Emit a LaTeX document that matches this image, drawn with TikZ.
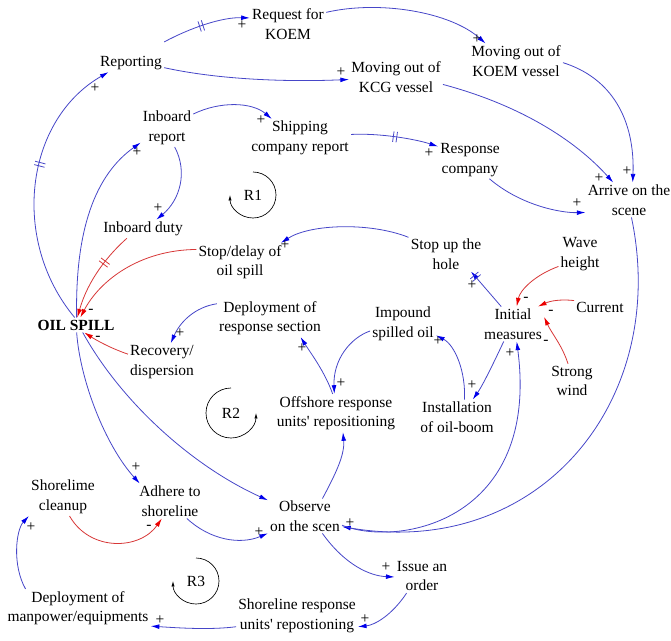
\documentclass[tikz,border=0pt]{standalone}
\usepackage{fontspec}
\setmainfont{Liberation Serif}
\usepackage{xcolor}
\usetikzlibrary{arrows.meta,decorations.markings}
\definecolor{linkblue}{RGB}{70,70,200}
\definecolor{headblue}{RGB}{0,0,235}
\definecolor{linkred}{RGB}{215,55,55}
\definecolor{headred}{RGB}{235,0,0}

\begin{document}
\begin{tikzpicture}[x=0.75pt, y=-0.75pt,
  every node/.style={align=center, inner sep=1.5pt, font=\fontsize{11.6}{14.6}\selectfont},
  plink/.style={color=linkblue, line width=.6pt, -{Latex[length=6.5pt,width=3.6pt,color=headblue]}},
  nlink/.style={color=linkred, line width=.6pt, -{Latex[length=6.5pt,width=3.6pt,color=headred]}},
  delaymark/.style={postaction={decorate, decoration={markings, mark=at position #1 with {\draw[-] (-1.3pt,-4pt) -- (-1.3pt,4pt) (1.3pt,-4pt) -- (1.3pt,4pt);}}}},
  loopmark/.style={black, line width=.5pt, -{Latex[length=4pt,width=2.4pt]}},
  sign/.style={inner sep=0pt}]
\useasboundingbox (0,0) rectangle (671,640);

\node (req) at (288,24) {Request for\\KOEM};
\node (rep) at (131,63) {Reporting};
\node (kcg) at (396,77) {Moving out of\\KCG vessel};
\node (koem) at (516,61) {Moving out of\\KOEM vessel};
\node (inb) at (167,128) {Inboard\\report};
\node (ship) at (300,138) {Shipping\\company report};
\node (resp) at (470,160) {Response\\company};
\node (arr) at (629,200) {Arrive on the\\scene};
\node (lr1) at (253,195) {R1};
\node (duty) at (143,229) {Inboard duty};
\node (stopd) at (240,262) {Stop/delay of\\oil spill};
\node (hole) at (446,254) {Stop up the\\hole};
\node (wave) at (580,254) {Wave\\height};
\node (oil) at (76,325) {\textbf{OIL SPILL}};
\node (deprs) at (270,318) {Deployment of\\response section};
\node (imp) at (403,324) {Impound\\spilled oil};
\node (init) at (513,324) {Initial\\measures};
\node (curr) at (600,307) {Current};
\node (recov) at (162,362) {Recovery/\\dispersion};
\node (wind) at (572,381) {Strong\\wind};
\node (lr2) at (231,413) {R2};
\node (off) at (336,413) {Offshore response\\units\textquotesingle{} repositioning};
\node (inst) at (457,417) {Installation\\of oil-boom};
\node (clean) at (63,497) {Shorelime\\cleanup};
\node (adh) at (170,501) {Adhere to\\shoreline};
\node (obs) at (305,516) {Observe\\on the scen};
\node (issue) at (422,576) {Issue an\\order};
\node (lr3) at (196,581) {R3};
\node (shore) at (297,616) {Shoreline response\\units\textquotesingle{} repostioning};
\node (man) at (78,608) {Deployment of\\manpower/equipments};

% reporting chain
\draw[plink, delaymark=.58] (oil.100) .. controls (10,240) and (25,120) .. (rep.202);
\draw[plink] (oil.85) .. controls (75,230) and (95,175) .. (inb.209);
\draw[plink] (rep.-8) .. controls (220,80) and (290,82) .. (kcg.183);
\draw[plink, delaymark=.45] ([yshift=9pt]rep.north east) .. controls (190,28) and (222,17) .. (req.171);
\draw[plink] (req.17) .. controls (380,0) and (450,12) .. (koem.150);
\draw[plink] (kcg.-9) .. controls (520,105) and (575,140) .. (arr.132);
\draw[plink] (koem.-2) .. controls (612,78) and (635,120) .. (arr.78);
\draw[plink] (inb.28) .. controls (220,101) and (252,102) .. (ship.146);
\draw[plink] (inb.-68) .. controls (188,172) and (180,200) .. (duty.35);
\draw[plink, delaymark=.5] (ship.4) .. controls (380,133) and (415,139) .. (resp.157);
\draw[plink] (resp.-44) .. controls (520,205) and (560,213) .. (arr.196);
\draw[plink] (arr.-82) .. controls (670,400) and (540,560) .. (obs.-16);
\draw[plink] (obs.-14) .. controls (400,548) and (540,520) .. (init.-78);

% offshore response
\draw[plink] (obs.45) .. controls (335,475) and (345,455) .. (off.-70);
\draw[plink] (off.100) .. controls (325,372) and (310,352) .. (deprs.-32);
\draw[plink] (imp.192) .. controls (350,338) and (333,360) .. (off.95);
\draw[plink] (inst.67) .. controls (466,372) and (455,345) .. (imp.-19);
\draw[plink] (init.-118) .. controls (495,360) and (483,385) .. (inst.48);
\draw[plink, delaymark=.85] (init.124) -- (hole.-35);
\draw[plink] (hole.156) .. controls (370,222) and (310,224) .. (stopd.25);
\draw[nlink] (stopd.164) .. controls (140,250) and (100,280) .. (oil.60);
\draw[nlink, delaymark=.35] (duty.-150) .. controls (108,255) and (88,280) .. (oil.80);
\draw[nlink] (recov.167) .. controls (110,348) and (96,340) .. (oil.-42);
\draw[plink] (deprs.165) .. controls (195,307) and (180,322) .. (recov.65);

% shoreline
\draw[plink] (oil.-85) .. controls (80,380) and (105,445) .. (adh.150);
\draw[plink] (oil.-48) .. controls (120,400) and (190,465) .. (obs.157);
\draw[plink] (adh.-46) .. controls (210,540) and (240,545) .. (obs.-155);
\draw[nlink] (clean.-71) .. controls (90,552) and (140,550) .. (adh.-115);
\draw[plink] (man.160) .. controls (12,565) and (16,530) .. (clean.-151);
\draw[plink] (obs.-45) .. controls (345,565) and (370,576) .. (issue.182);
\draw[plink] (issue.-132) .. controls (392,615) and (375,625) .. (shore.-10);
\draw[plink] (shore.190) .. controls (210,630) and (180,628) .. (man.-14);

% sea conditions
\draw[nlink] (wave.-150) .. controls (535,275) and (520,290) .. (init.78);
\draw[nlink] (curr.166) .. controls (560,299) and (550,301) .. (init.35);
\draw[nlink] (wind.103) .. controls (562,345) and (552,334) .. (init.13);

% loops
\draw[loopmark] (lr1.center) ++(0,-23) arc[start angle=-90, end angle=180, radius=23];
\draw[loopmark] (lr2.center) ++(0,-25) arc[start angle=-90, end angle=-360, radius=25];
\draw[loopmark] (lr3.center) ++(0,-23) arc[start angle=-90, end angle=180, radius=23];

% polarities
\foreach \sx/\sy/\st [count=\i] in {95/88/+, 137/152/+, 341/72/+, 242/25/+, 477/39/+,
  599/178/+, 627/171/+, 261/120/+, 158/208/+, 429/153/+, 577/203/+, 350/523/+,
  510/353/+, 302/348/+, 341/383/+, 438/341/+, 472/385/+, 472/285/+, 285/245/+,
  91/311/-, 98/338/-, 180/333/+, 136/467/+, 259/532/+, 149/527/-, 31/527/+,
  386/567/+, 365/619/+, 160/620/+, 526/299/-, 551/312/-, 546/342/-}
  \node[sign] (sg\i) at (\sx,\sy) {\st};
\end{tikzpicture}
\end{document}
